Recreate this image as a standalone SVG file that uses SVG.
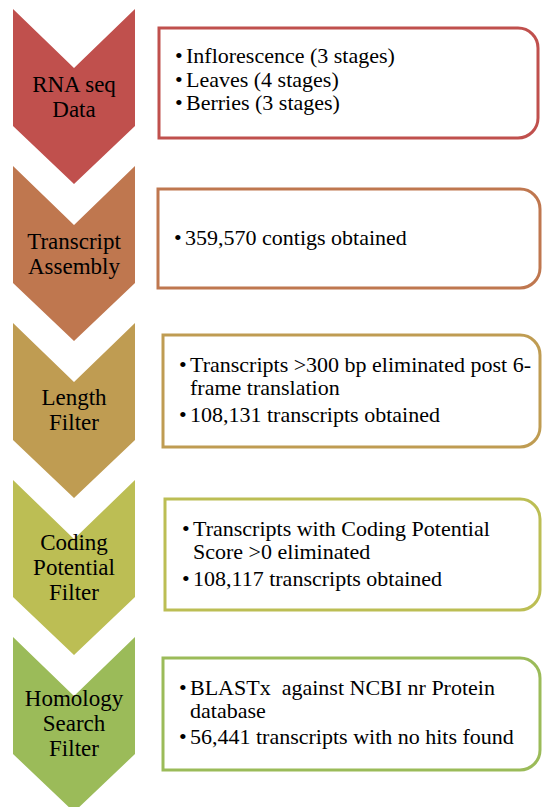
<svg xmlns="http://www.w3.org/2000/svg" width="542" height="807" viewBox="0 0 542 807">
<style>
.lbl{font-family:'Liberation Serif','Times New Roman',serif;font-size:23px;fill:#000;text-anchor:middle}
.txt{font-family:'Liberation Serif','Times New Roman',serif;font-size:22px;fill:#000}
.box{fill:#fff;stroke-width:3}
</style>
<rect width="542" height="807" fill="#fff"/>
<g id="step1">
<path d="M13,9 L74,68 L135,9 L135,126 L74,184 L13,126 Z" fill="#C0504D"/>
<text class="lbl" x="74" y="92">RNA seq</text>
<text class="lbl" x="74" y="117">Data</text>
</g>
<g id="box1">
<path class="box" stroke="#C0504D" d="M159,28 H518 A20,20 0 0 1 538,48 V118 A20,20 0 0 1 518,138 H159 Z"/>
<text class="txt" x="175" y="63">•</text><text class="txt" x="186" y="63">Inflorescence (3 stages)</text>
<text class="txt" x="175" y="87">•</text><text class="txt" x="186" y="87">Leaves (4 stages)</text>
<text class="txt" x="175" y="110">•</text><text class="txt" x="186" y="110">Berries (3 stages)</text>
</g>
<g id="step2">
<path d="M13,166 L74,225 L135,166 L135,283 L74,341 L13,283 Z" fill="#BF774F"/>
<text class="lbl" x="74" y="249">Transcript</text>
<text class="lbl" x="74" y="274">Assembly</text>
</g>
<g id="box2">
<path class="box" stroke="#BF774F" d="M158,189 H520 A20,20 0 0 1 540,209 V268 A20,20 0 0 1 520,288 H158 Z"/>
<text class="txt" x="174" y="245">•</text><text class="txt" x="185" y="245">359,570 contigs obtained</text>
</g>
<g id="step3">
<path d="M13,323 L74,382 L135,323 L135,440 L74,498 L13,440 Z" fill="#BF9C52"/>
<text class="lbl" x="74" y="405">Length</text>
<text class="lbl" x="74" y="430">Filter</text>
</g>
<g id="box3">
<path class="box" stroke="#BF9C52" d="M163,335 H520 A20,20 0 0 1 540,355 V427 A20,20 0 0 1 520,447 H163 Z"/>
<text class="txt" x="179" y="372">•</text><text class="txt" x="190" y="372">Transcripts &gt;300 bp eliminated post 6-</text>
<text class="txt" x="190" y="395">frame translation</text>
<text class="txt" x="179" y="422">•</text><text class="txt" x="190" y="422">108,131 transcripts obtained</text>
</g>
<g id="step4">
<path d="M13,480 L74,539 L135,480 L135,597 L74,655 L13,597 Z" fill="#BCBE54"/>
<text class="lbl" x="74" y="550">Coding</text>
<text class="lbl" x="74" y="575">Potential</text>
<text class="lbl" x="74" y="600">Filter</text>
</g>
<g id="box4">
<path class="box" stroke="#BCBE54" d="M165,499 H520 A20,20 0 0 1 540,519 V590 A20,20 0 0 1 520,610 H165 Z"/>
<text class="txt" x="182" y="536">•</text><text class="txt" x="193" y="536">Transcripts with Coding Potential</text>
<text class="txt" x="193" y="559">Score &gt;0 eliminated</text>
<text class="txt" x="182" y="586">•</text><text class="txt" x="193" y="586">108,117 transcripts obtained</text>
</g>
<g id="step5">
<path d="M13,637 L74,696 L135,637 L135,754 L74,812 L13,754 Z" fill="#9BBB59"/>
<text class="lbl" x="74" y="706">Homology</text>
<text class="lbl" x="74" y="731">Search</text>
<text class="lbl" x="74" y="756">Filter</text>
</g>
<g id="box5">
<path class="box" stroke="#9BBB59" d="M163,658 H520 A20,20 0 0 1 540,678 V750 A20,20 0 0 1 520,770 H163 Z"/>
<text class="txt" x="179" y="695">•</text><text class="txt" x="190" y="695" xml:space="preserve">BLASTx  against NCBI nr Protein</text>
<text class="txt" x="190" y="718">database</text>
<text class="txt" x="179" y="744">•</text><text class="txt" x="190" y="744">56,441 transcripts with no hits found</text>
</g>
</svg>
